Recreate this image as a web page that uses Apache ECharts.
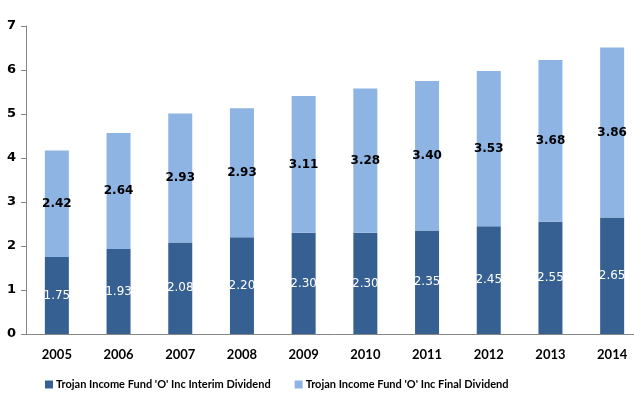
<!DOCTYPE html>
<html><head><meta charset="utf-8">
<script src="https://cdn.jsdelivr.net/npm/echarts@6/dist/echarts.min.js"></script>
<style>html,body{margin:0;padding:0;background:#fff;overflow:hidden}#c{width:643px;height:394px}</style>
</head><body><div id="c"></div>
<script>
const categories = ['2005','2006','2007','2008','2009','2010','2011','2012','2013','2014'];
const interim = [1.75,1.93,2.08,2.20,2.30,2.30,2.35,2.45,2.55,2.65];
const finalDiv = [2.42,2.64,2.93,2.93,3.11,3.28,3.40,3.53,3.68,3.86];
const yTicks = [0,1,2,3,4,5,6,7];
const seriesNames = ["Trojan Income Fund 'O' Inc Interim Dividend","Trojan Income Fund 'O' Inc Final Dividend"];

const chart = echarts.init(document.getElementById('c'));
const font = 'DejaVu Sans';
chart.setOption({
  animation:false,
  grid:{left:26,right:0,top:26,bottom:60,containLabel:false},
  legend:{
    orient:'horizontal',top:374,left:40,width:600,itemWidth:8,itemHeight:8,itemGap:24,icon:'rect',
    textStyle:{fontFamily:'Lato',fontWeight:'bold',fontSize:11,color:'#000',padding:[0,0,0,-2]},
    data:seriesNames
  },
  xAxis:{type:'category',data:categories,
    axisLine:{lineStyle:{color:'#868686'}},axisTick:{show:false},
    axisLabel:{fontFamily:'Lato',fontWeight:'bold',fontSize:13,color:'#000',margin:14}},
  yAxis:{type:'value',min:yTicks[0],max:yTicks[yTicks.length-1],interval:1,
    axisLine:{show:true,lineStyle:{color:'#868686'}},
    axisTick:{show:true,length:5,lineStyle:{color:'#868686'}},
    splitLine:{show:false},
    axisLabel:{fontFamily:font,fontWeight:'bold',fontSize:13,color:'#000',margin:10}},
  series:[
    {name:seriesNames[0],type:'bar',stack:'a',data:interim,barWidth:24,
     itemStyle:{color:'#376092'},
     label:{show:true,position:'inside',formatter:p=>p.value.toFixed(2),fontFamily:font,fontSize:12,color:'#fff'}},
    {name:seriesNames[1],type:'bar',stack:'a',data:finalDiv,barWidth:24,
     itemStyle:{color:'#8EB4E3'},
     label:{show:true,position:'inside',formatter:p=>p.value.toFixed(2),fontFamily:font,fontWeight:'bold',fontSize:12,color:'#000'}}
  ]
});
</script></body></html>
